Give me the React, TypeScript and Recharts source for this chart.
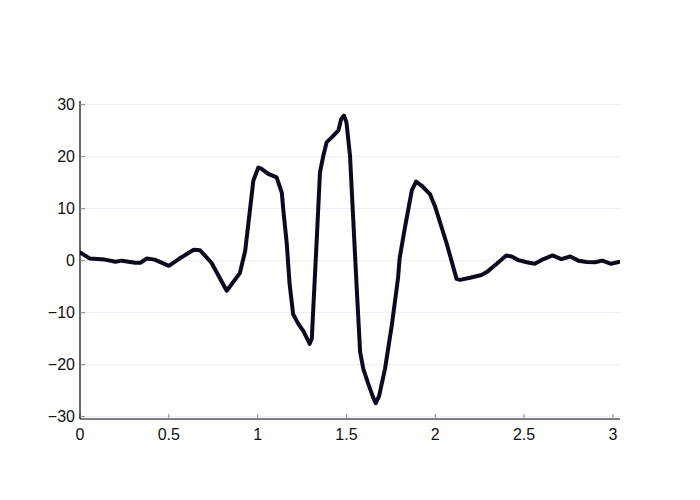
import React from 'react';
import { LineChart, Line, XAxis, YAxis, CartesianGrid } from 'recharts';

const xValues = [
  0, 0.056, 0.14, 0.2, 0.236, 0.31, 0.34, 0.375, 0.42, 0.5, 0.56, 0.64, 0.676, 0.74, 0.826,
  0.9, 0.93, 0.976, 1.004, 1.02, 1.06, 1.107, 1.136, 1.145, 1.164, 1.18, 1.2, 1.23, 1.257,
  1.293, 1.305, 1.314, 1.333, 1.351, 1.37, 1.389, 1.417, 1.454, 1.464, 1.47, 1.486, 1.5,
  1.52, 1.539, 1.558, 1.577, 1.595, 1.62, 1.65, 1.665, 1.684, 1.717, 1.755, 1.79, 1.8,
  1.83, 1.868, 1.892, 1.924, 1.97, 2.0, 2.065, 2.12, 2.14, 2.196, 2.26, 2.29, 2.346, 2.4,
  2.43, 2.468, 2.515, 2.56, 2.61, 2.66, 2.71, 2.76, 2.806, 2.853, 2.9, 2.94, 2.99, 3.04,
];

const yValues = [
  1.6, 0.4, 0.2, -0.2, 0, -0.4, -0.4, 0.4, 0.2, -1.0, 0.4, 2.1, 2.0, -0.4, -5.8,
  -2.4, 1.9, 15.4, 17.9, 17.7, 16.7, 16.0, 13.1, 9.6, 3.3, -4.5, -10.3, -12.2, -13.5,
  -16.0, -15.0, -8.7, 4.2, 17.0, 20.2, 22.8, 23.7, 25.0, 26.3, 27.2, 27.9, 26.6,
  20.2, 7.4, -5.4, -17.6, -20.8, -23.4, -26.3, -27.4, -26.0, -20.8, -12.5, -3.5, 0.6,
  6.5, 13.5, 15.2, 14.4, 12.8, 10.3, 3.2, -3.5, -3.7, -3.3, -2.75, -2.2, -0.6, 1.0,
  0.8, 0.1, -0.3, -0.6, 0.3, 1.0, 0.3, 0.8, 0, -0.25, -0.3, 0, -0.6, -0.2,
];

const xTicks = [0, 0.5, 1, 1.5, 2, 2.5, 3];
const yTicks = [-30, -20, -10, 0, 10, 20, 30];

const data = xValues.map((x, i) => ({ x, y: yValues[i] }));

const tickStyle = { fill: '#111', fontSize: 16, fontFamily: 'Liberation Sans, Arial, sans-serif' };

export default function App() {
  return (
    <div style={{ position: 'absolute', left: 0, top: 0, width: 700, height: 500, background: '#fff' }}>
      <LineChart width={700} height={500} data={data} margin={{ top: 101, right: 80, bottom: 51, left: 20 }}>
        <CartesianGrid
          horizontal
          vertical={false}
          horizontalValues={yTicks}
          stroke="#e9edf5"
          strokeWidth={1}
        />
        <XAxis
          dataKey="x"
          type="number"
          domain={[0, 3.04]}
          ticks={xTicks}
          height={30}
          tick={tickStyle}
          tickSize={-5}
          tickMargin={15}
          axisLine={{ stroke: '#000', strokeWidth: 1.2 }}
          tickLine={{ stroke: '#888' }}
          allowDataOverflow
        />
        <YAxis
          type="number"
          domain={[-30.45, 30.7]}
          ticks={yTicks}
          width={60}
          tick={tickStyle}
          tickSize={-5}
          tickMargin={10}
          axisLine={{ stroke: '#000', strokeWidth: 1.2 }}
          tickLine={{ stroke: '#888' }}
          tickFormatter={(v: number) => (v < 0 ? `\u2212${Math.abs(v)}` : `${v}`)}
          allowDataOverflow
        />
        <Line
          type="linear"
          dataKey="y"
          stroke="#0b0b1e"
          strokeWidth={4}
          dot={false}
          strokeLinejoin="round"
          strokeLinecap="round"
          isAnimationActive={false}
        />
      </LineChart>
    </div>
  );
}
